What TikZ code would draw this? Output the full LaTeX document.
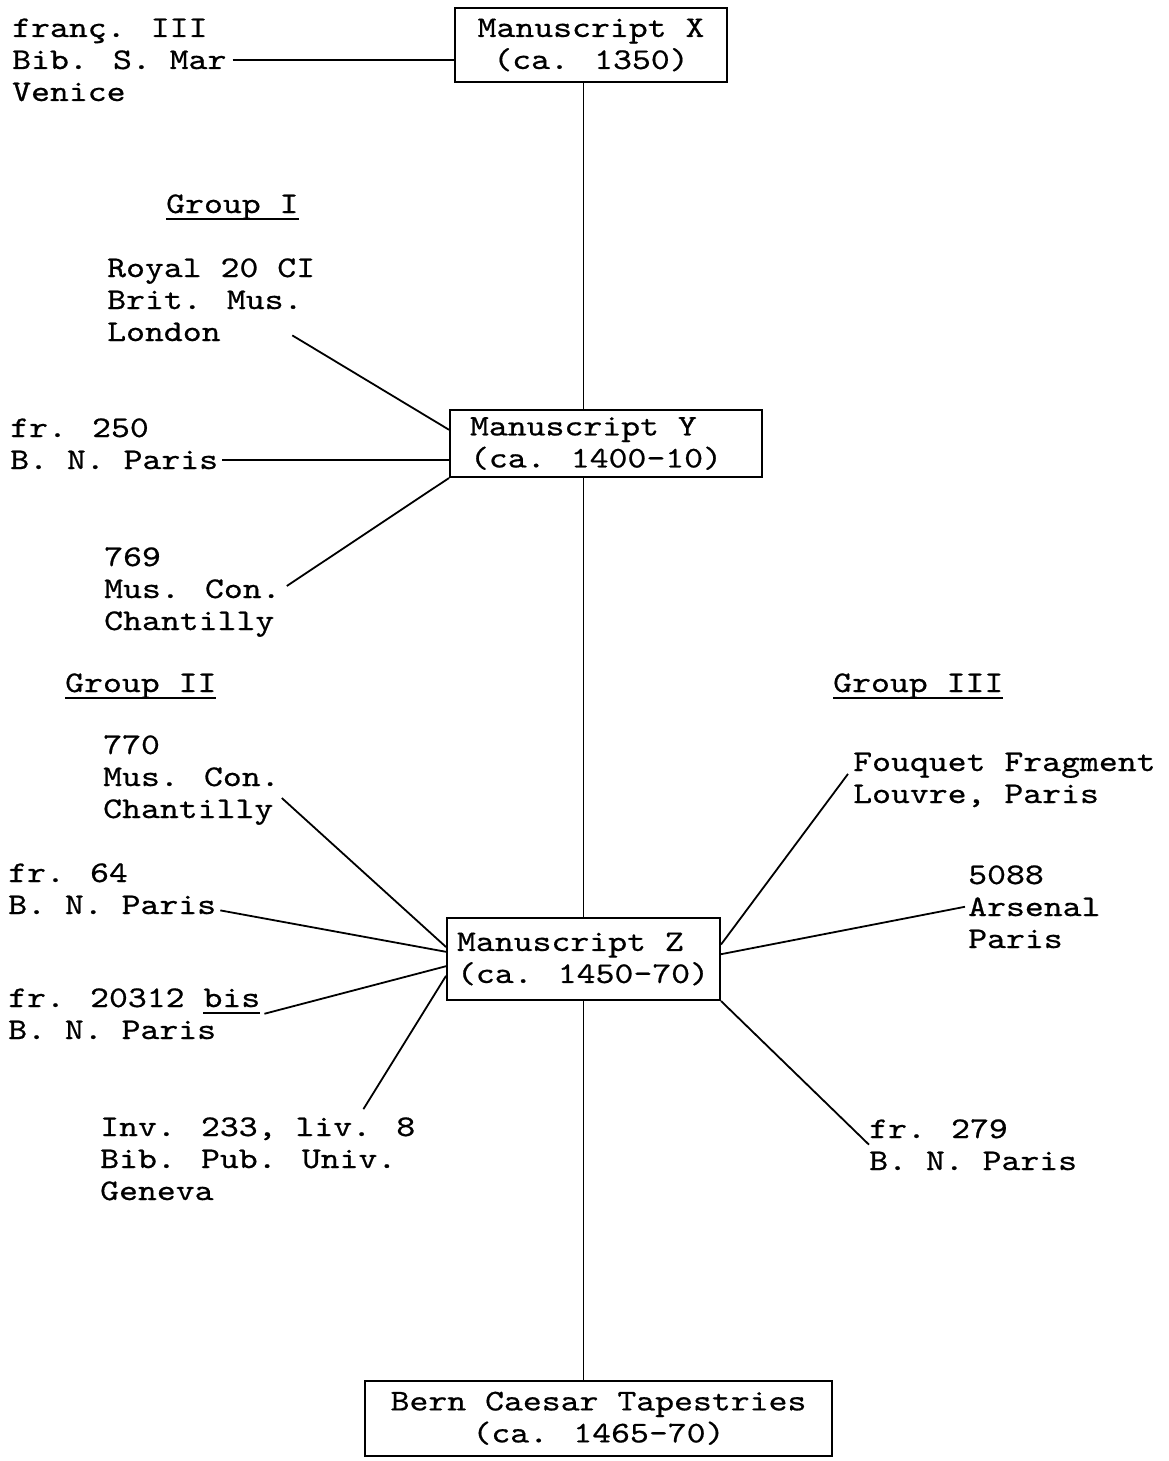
\documentclass[tikz,border=0pt]{standalone}
\usepackage{fontspec}
\usepackage{tikz}
\usetikzlibrary{positioning,calc}
\newfontfamily\typewriter{lmmono10-regular.otf}[FakeStretch=1.2,FakeBold=0.6]
\newcommand{\ulbox}[1]{\leavevmode\setbox0\hbox{#1}\rlap{\rule[-7pt]{\wd0}{1.6pt}}\box0}

\begin{document}
\begin{tikzpicture}[
    x=1pt, y=-1pt,
    every node/.style={font=\typewriter\fontsize{30}{32}\selectfont},
    manuscript/.style={rectangle, draw, line width=2pt, align=center},
    source/.style={anchor=base west, align=left, inner sep=0pt},
    group/.style={anchor=base west, inner sep=0pt},
    link/.style={line width=1.8pt}
]
\useasboundingbox (0,0) rectangle (1168,1461);

% Manuscripts (the trunk)
\node[manuscript, minimum width=272pt, minimum height=74pt] (msx) at (591,45) {Manuscript X\\(ca. 1350)};
\node[manuscript, align=flush left, text width=272pt, inner xsep=20pt, minimum height=67pt] (msy) at (606,443.5) {Manuscript Y\\(ca. 1400-10)};
\node[manuscript, align=flush left, text width=253pt, inner xsep=10pt, minimum height=82pt] (msz) at (583.5,959) {Manuscript Z\\(ca. 1450-70)};
\node[manuscript, minimum width=467pt, anchor=north, inner ysep=10.7pt] (bern) at (598.5,1380) {Bern Caesar Tapestries\\(ca. 1465-70)};

\draw[link] (msz.center |- msx.south) -- (msz.center |- msy.north);
\draw[link] (msz.center |- msy.south) -- (msz.north);
\draw[link] (msz.south) -- (msz.center |- bern.north);

% Venice copy
\node[source] (venice) at (12,101) {franç. III\\Bib. S. Mar\\Venice};
\coordinate (veniceend) at ([xshift=6pt]venice.east);
\draw[link] (veniceend) -- (veniceend -| msx.west);

% Group I
\node[group] (groupI) at (166,213) {\ulbox{Group I}};
\node[source] (royal) at (107,341) {Royal 20 CI\\Brit. Mus.\\London};
\node[source] (fr250) at (10,469) {fr. 250\\B. N. Paris};
\node[source] (c769) at (104,630) {769\\Mus. Con.\\Chantilly};
\coordinate (fr250end) at ([xshift=4pt,yshift=9pt]fr250.south east);
\draw[link] ([xshift=-23pt,yshift=6pt]royal.south east) -- (msy.175);
\draw[link] (fr250end) -- (fr250end -| msy.west);
\draw[link] ([xshift=6pt,yshift=6pt]c769.east) -- (msy.south west);

% Group II
\node[group] (groupII) at (65,692) {\ulbox{Group II}};
\node[source] (c770) at (103,818) {770\\Mus. Con.\\Chantilly};
\node[source] (fr64) at (8,914) {fr. 64\\B. N. Paris};
\node[source] (fr20312) at (8,1039) {fr. 20312 \ulbox{bis}\\B. N. Paris};
\node[source] (inv233) at (100,1200) {Inv. 233, liv. 8\\Bib. Pub. Univ.\\Geneva};
\draw[link] ([xshift=2pt,yshift=-18pt]c770.east) -- (msz.175);
\draw[link] ([xshift=4pt,yshift=4pt]fr64.south east) -- (msz.177);
\draw[link] ([xshift=4pt]fr20312.east) -- (msz.183);
\draw[link] ([xshift=-52pt,yshift=8pt]inv233.north east) -- (msz.187);

% Group III
\node[group] (groupIII) at (833,692) {\ulbox{Group III}};
\node[source] (fouquet) at (853,803) {Fouquet Fragment\\Louvre, Paris};
\node[source] (arsenal) at (968,948) {5088\\Arsenal\\Paris};
\node[source] (fr279) at (869,1170) {fr. 279\\B. N. Paris};
\draw[link] ([xshift=-5pt,yshift=6pt]fouquet.west) -- (msz.6);
\draw[link] ([xshift=-3pt]arsenal.west) -- (msz.2);
\draw[link] (fr279.west) -- (msz.south east);

\end{tikzpicture}
\end{document}
